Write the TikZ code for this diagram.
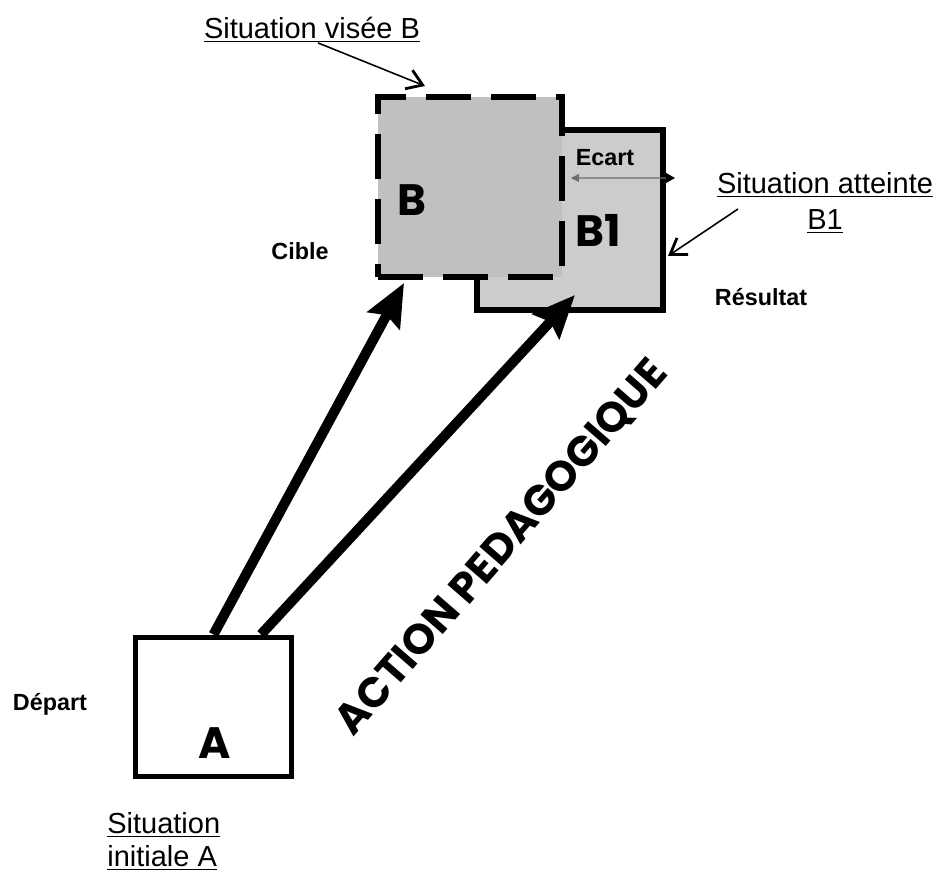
\documentclass[tikz,border=0pt]{standalone}
\usepackage{xcolor}
\usepackage{fontspec}
\setmainfont{Liberation Sans}
\newfontfamily\handfont{Poppins}
\usepackage{tikz}
\usetikzlibrary{arrows.meta, positioning, calc}
\definecolor{cibgray}{RGB}{192,192,192}
\definecolor{resgray}{RGB}{204,204,204}
\definecolor{ecgray}{RGB}{110,110,110}
\tikzset{
  sitbox/.style={rectangle, draw=black, fill=white, line width=0.1cm,
    minimum width=3.14cm, minimum height=2.8cm, inner sep=0pt},
  cibbox/.style={rectangle, draw=black, fill=cibgray, line width=0.12cm,
    dash pattern=on 0.9cm off 0.4cm,
    minimum width=3.68cm, minimum height=3.6cm, inner sep=0pt},
  resbox/.style={rectangle, draw=black, fill=resgray, line width=0.12cm,
    minimum width=3.72cm, minimum height=3.6cm, inner sep=0pt},
  letter/.style={font=\handfont\bfseries\fontsize{25}{28}\selectfont, inner sep=0pt},
  sitlabel/.style={font=\fontsize{16.5}{19}\selectfont, inner sep=0pt},
  keylabel/.style={font=\fontsize{13.3}{16}\selectfont\bfseries, inner sep=0pt},
  bigarrow/.style={-{Stealth[length=0.85cm, width=0.72cm, inset=0.12cm]},
    line width=0.2cm, color=black},
  leader/.style={-{Straight Barb[length=0.3cm, width=0.4cm, line width=1.6pt]},
    line width=0.9pt, color=black},
  ecart/.style={{Triangle[length=0.16cm, width=0.16cm, color=ecgray]}-{Triangle[length=0.18cm, width=0.2cm, color=black]},
    line width=0.6pt, color=ecgray}
}

\begin{document}
\begin{tikzpicture}[x=0.02cm, y=-0.02cm]
  \useasboundingbox (0,0) rectangle (936,874);

  % Result and target situations
  \node[resbox] (B1) at (570,220) {};
  \node[cibbox] (B) at (470,187) {};
  \node[letter] (labB) at (412,200) {B};
  \node[letter] (labB1) at (598,230) {B1};

  % Initial situation
  \node[sitbox] (A) at (213.5,707) {};
  \node[letter] (labA) at (215,743) {A};

  % Gap between target and result
  \node[keylabel] (labEcart) at (605,158) {Ecart};
  \draw[ecart] ([xshift=0.12cm, yshift=0.18cm]B.east) -- ([xshift=0.18cm, yshift=0.84cm]B1.east);

  % Side labels
  \node[keylabel] (cible) at (300,251) {Cible};
  \node[keylabel] (resultat) at (761,297) {Résultat};
  \node[keylabel] (depart) at (50,704) {Départ};

  % Situation captions with leaders
  \node[sitlabel] (labVisee) at (312,30) {\underline{Situation visée B}};
  \draw[leader] ([xshift=0.12cm]labVisee.south) -- ([xshift=1cm, yshift=0.16cm]B.north west);
  \node[sitlabel, align=center] (labAtteinte) at (825,203) {\underline{Situation atteinte}\\[1.5pt]\underline{B1}};
  \draw[leader] ([xshift=-1.74cm, yshift=-0.12cm]labAtteinte.center) -- ([xshift=0.04cm, yshift=-0.72cm]B1.east);
  \node[sitlabel, align=left, anchor=north west] (labInit) at (107,812) {\underline{Situation}\\\underline{initiale A}};

  % Pedagogical action
  \draw[bigarrow] (A.north) -- ([xshift=0.58cm, yshift=-0.06cm]B.south west);
  \draw[bigarrow] ([xshift=0.95cm]A.north) -- ([xshift=0.1cm, yshift=0.36cm]B1.south);
  \node[font=\handfont\bfseries\fontsize{24}{28}\selectfont, rotate=49] (action) at (502,548) {ACTION PEDAGOGIQUE};
\end{tikzpicture}
\end{document}
